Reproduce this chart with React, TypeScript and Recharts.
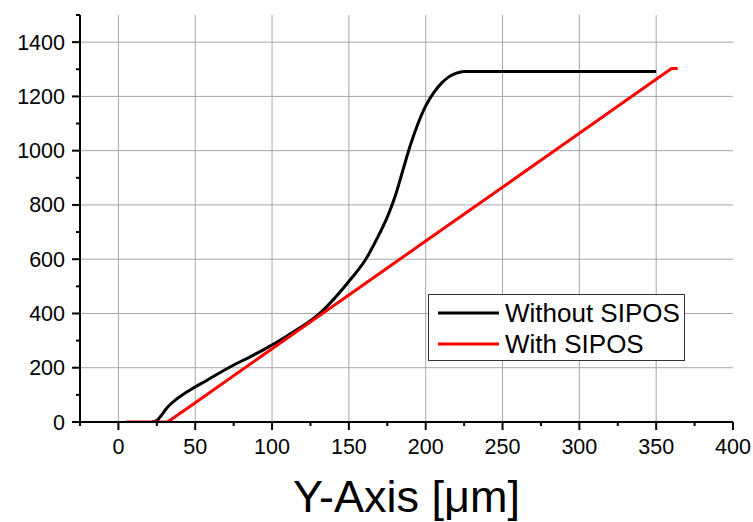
import { LineChart, Line, XAxis, YAxis, CartesianGrid, Legend } from "recharts"

// Without SIPOS (black)
const withoutX = [22, 25, 28, 31, 38, 45, 58, 75, 86, 94, 110, 131, 151, 161, 170, 175, 180, 185, 190, 195, 200, 205, 210, 215, 220, 225, 350]
const withoutY = [0, 5, 25, 48, 85, 112, 155, 210, 241, 265, 318, 400, 525, 600, 695, 755, 830, 925, 1020, 1100, 1165, 1212, 1247, 1272, 1286, 1292, 1292]

// With SIPOS (red)
const withX = [5, 32, 50, 100, 150, 200, 250, 300, 350, 360, 364]
const withY = [0, 0, 71, 270, 468, 667, 865, 1064, 1263, 1303, 1303]

const xTicks = [-25, 0, 25, 50, 75, 100, 125, 150, 175, 200, 225, 250, 275, 300, 325, 350, 375, 400]
const yTicks = [0, 100, 200, 300, 400, 500, 600, 700, 800, 900, 1000, 1100, 1200, 1300, 1400, 1500]
const xGrid = [0, 50, 100, 150, 200, 250, 300, 350]
const yGrid = [200, 400, 600, 800, 1000, 1200, 1400]

const withoutData = withoutX.map((x, i) => ({ x, y: withoutY[i] }))
const withData = withX.map((x, i) => ({ x, y: withY[i] }))

const series = [
  { name: "Without SIPOS", color: "#000000" },
  { name: "With SIPOS", color: "#ff0000" },
]

function BottomTick(props: any) {
  const { x, y, payload } = props
  const major = payload.value % 50 === 0
  return (
    <g>
      <line x1={x} x2={x} y1={y} y2={y + (major ? 8 : 4)} stroke="#000" strokeWidth={2} />
      {major && (
        <text x={x} y={y + 32} textAnchor="middle" fontSize={21.5} fill="#000">
          {payload.value}
        </text>
      )}
    </g>
  )
}

function TopTick(props: any) {
  const { x, y, payload } = props
  const major = payload.value % 50 === 0
  return <line x1={x} x2={x} y1={y} y2={y - (major ? 8 : 4)} stroke="#000" strokeWidth={2} />
}

function LeftTick(props: any) {
  const { x, y, payload } = props
  const major = payload.value % 200 === 0
  return (
    <g>
      <line x1={x - (major ? 8 : 4)} x2={x} y1={y} y2={y} stroke="#000" strokeWidth={2} />
      {major && (
        <text x={x - 15} y={y + 7.5} textAnchor="end" fontSize={21.5} fill="#000">
          {payload.value}
        </text>
      )}
    </g>
  )
}

const renderLegend = () => (
  <div
    style={{
      border: "1px solid #333",
      background: "#fff",
      width: 255,
      height: 62,
      paddingTop: 3,
      boxSizing: "content-box",
      fontSize: 26,
      color: "#000",
      textAlign: "left",
    }}
  >
    {series.map((s) => (
      <div key={s.name} style={{ display: "flex", alignItems: "center", height: 30.4 }}>
        <svg width={70} height={4} style={{ marginLeft: 9 }}>
          <line x1={0} x2={61} y1={2} y2={2} stroke={s.color} strokeWidth={3} />
        </svg>
        <span style={{ marginLeft: -3, lineHeight: "30px" }}>{s.name}</span>
      </div>
    ))}
  </div>
)

export default function App() {
  return (
    <div style={{ position: "absolute", left: 0, top: 0, background: "#fff", fontFamily: "'Liberation Sans', Arial, sans-serif" }}>
      <LineChart width={753} height={522} margin={{ top: 15, right: 20, left: 0, bottom: 0 }}>
        <CartesianGrid
          stroke="#a6a6a6"
          strokeWidth={1}
          horizontalValues={yGrid}
          verticalValues={xGrid}
        />
        <XAxis
          dataKey="x"
          type="number"
          domain={[-25, 400]}
          ticks={xTicks}
          interval={0}
          allowDataOverflow
          height={100}
          tickSize={0}
          tickMargin={0}
          tick={<BottomTick />}
          axisLine={{ stroke: "#000", strokeWidth: 2 }}
          label={{ value: "Y-Axis [μm]", position: "insideBottom", offset: 10, fontSize: 45, fill: "#000" }}
        />
        <XAxis
          xAxisId="top"
          orientation="top"
          dataKey="x"
          type="number"
          domain={[-25, 400]}
          ticks={xTicks}
          interval={0}
          height={0}
          tickSize={0}
          tickMargin={0}
          tick={<TopTick />}
          axisLine={{ stroke: "#000", strokeWidth: 2 }}
        />
        <YAxis
          dataKey="y"
          type="number"
          domain={[0, 1500]}
          ticks={yTicks}
          interval={0}
          allowDataOverflow
          width={80}
          tickSize={0}
          tickMargin={0}
          tick={<LeftTick />}
          axisLine={{ stroke: "#000", strokeWidth: 2 }}
        />
        <YAxis
          yAxisId="right"
          orientation="right"
          type="number"
          domain={[0, 1500]}
          width={0}
          tick={false}
          tickLine={false}
          axisLine={{ stroke: "#000", strokeWidth: 2 }}
        />
        <Legend
          layout="horizontal"
          verticalAlign="middle"
          align="center"
          content={renderLegend}
          wrapperStyle={{ left: 428, top: 294, width: 257 }}
        />
        <Line
          data={withoutData}
          dataKey="y"
          name="Without SIPOS"
          type="monotone"
          stroke="#000000"
          strokeWidth={3}
          dot={false}
          isAnimationActive={false}
        />
        <Line
          data={withData}
          dataKey="y"
          name="With SIPOS"
          type="linear"
          stroke="#ff0000"
          strokeWidth={3}
          dot={false}
          isAnimationActive={false}
        />
      </LineChart>
    </div>
  )
}
